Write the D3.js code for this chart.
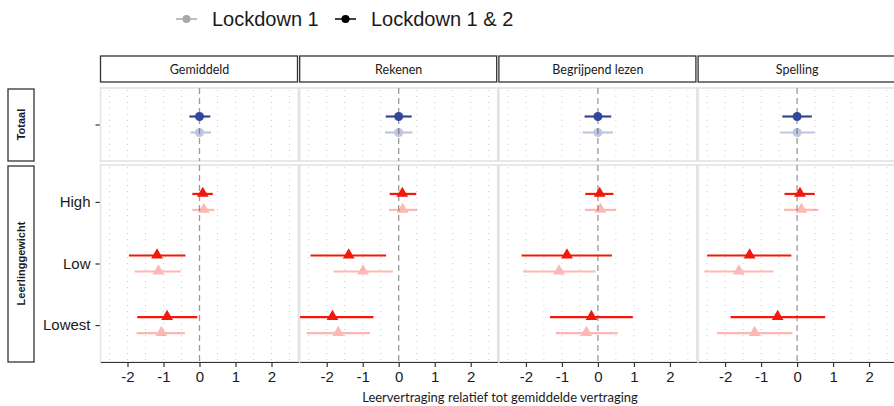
<!DOCTYPE html>
<html>
<head>
<meta charset="utf-8">
<script src="https://cdn.jsdelivr.net/npm/d3@7"></script>
<style>
  body { margin: 0; background: #fff; }
  svg { display: block; }
</style>
</head>
<body>
<div class="graph"></div>
<script>
//data//
let subjects = ['Gemiddeld', 'Rekenen', 'Begrijpend lezen', 'Spelling'];
let rowGroups = ['Totaal', 'Leerlinggewicht'];
let totalCats = [''];
let weightCats = ['High', 'Low', 'Lowest'];
let series = ['Lockdown 1 & 2', 'Lockdown 1'];
let xTicks = [-2, -1, 0, 1, 2];

// per subject: [Totaal, High, Low, Lowest]
let est12 = [[0, 0.09, -1.18, -0.90], [0, 0.10, -1.39, -1.84], [0, 0.05, -0.86, -0.18], [0, 0.08, -1.32, -0.54]];
let lo12  = [[-0.28, -0.20, -1.96, -1.73], [-0.36, -0.25, -2.45, -2.74], [-0.37, -0.35, -2.12, -1.33], [-0.41, -0.35, -2.50, -1.85]];
let hi12  = [[0.30, 0.37, -0.39, -0.06], [0.36, 0.49, -0.35, -0.70], [0.37, 0.43, 0.39, 0.97], [0.41, 0.49, -0.16, 0.78]];
let est1  = [[0, 0.12, -1.14, -1.06], [0, 0.11, -0.99, -1.68], [0, 0.07, -1.08, -0.32], [0, 0.12, -1.62, -1.18]];
let lo1   = [[-0.25, -0.20, -1.80, -1.75], [-0.38, -0.27, -1.81, -2.56], [-0.42, -0.36, -2.08, -1.17], [-0.47, -0.36, -2.58, -2.23]];
let hi1   = [[0.32, 0.41, -0.52, -0.41], [0.38, 0.51, -0.16, -0.80], [0.42, 0.50, -0.07, 0.55], [0.49, 0.59, -0.66, -0.13]];

//various constants//
let w = 894;
let h = 406;
let panelW = 198;
let panelStep = 199.2;
let left = 100.5;
let rowTop = [88, 165];
let rowBot = [161, 362];
let navy = '#34469a';
let red = '#f2190a';

let svg = d3.select('.graph')
    .append('svg')
    .attr('width', w)
    .attr('height', h);

// y scales (discrete, ggplot-like 0.6 expansion)
let yTotal = d3.scalePoint().domain(totalCats).range([rowTop[0], rowBot[0]]).padding(0.6);
let yWeight = d3.scalePoint().domain(weightCats).range([rowTop[1], rowBot[1]]).padding(0.6);
let dodge = d3.scalePoint().domain(series).range([-8, 8]);

let rows = [];
rows.push({ y: yTotal, cat: '', idx: 0, row: 0, color: navy, shape: 'circle' });
weightCats.forEach((c, i) => rows.push({ y: yWeight, cat: c, idx: i + 1, row: 1, color: red, shape: 'triangle' }));

// legend
let legend = svg.append('g').attr('font-family', 'Liberation Sans, Arial, sans-serif').attr('font-size', 20);
let legItems = [
    { label: 'Lockdown 1', color: '#a9a9a9', x: 176 },
    { label: 'Lockdown 1 & 2', color: '#000', x: 335 }
];
legItems.forEach(d => {
    legend.append('line').attr('x1', d.x).attr('x2', d.x + 21).attr('y1', 19).attr('y2', 19)
        .attr('stroke', d.color).attr('stroke-width', 1.5);
    legend.append('circle').attr('cx', d.x + 10.5).attr('cy', 19).attr('r', 4).attr('fill', d.color);
    legend.append('text').attr('x', d.x + 36).attr('y', 26).attr('fill', '#1a1a1a').text(d.label);
});

// row strips
rowGroups.forEach((g, r) => {
    svg.append('rect')
        .attr('x', 8).attr('y', rowTop[r] + 1)
        .attr('width', 26).attr('height', rowBot[r] - rowTop[r] - 1)
        .attr('fill', '#fff').attr('stroke', '#333').attr('stroke-width', 1.3);
    svg.append('text')
        .attr('transform', 'translate(25,' + (rowTop[r] + rowBot[r]) / 2 + ') rotate(-90)')
        .attr('text-anchor', 'middle')
        .attr('font-family', 'Liberation Sans, Arial, sans-serif')
        .attr('font-weight', 'bold')
        .attr('font-size', 11)
        .attr('fill', '#1a1a1a')
        .text(g);
});

// y axes (left of first panel)
let yAxisT = d3.axisLeft(yTotal).tickSize(5).tickSizeOuter(0).tickPadding(5);
let yAxisW = d3.axisLeft(yWeight).tickSize(5).tickSizeOuter(0).tickPadding(5);
[yAxisT, yAxisW].forEach((ax, r) => {
    let g = svg.append('g')
        .attr('transform', 'translate(' + left + ',0)')
        .call(ax);
    g.select('.domain').attr('stroke', '#333').attr('stroke-width', 1.2);
    g.selectAll('.tick line').attr('stroke', '#333').attr('stroke-width', 1.2);
    g.selectAll('.tick text').attr('font-family', 'Liberation Sans, Arial, sans-serif')
        .attr('font-size', 15).attr('fill', '#1a1a1a');
});

subjects.forEach((s, i) => {
    let x0 = left + i * panelStep;
    let xScale = d3.scaleLinear().domain([-2.75, 2.75]).range([x0, x0 + panelW]);

    // top strip
    svg.append('rect')
        .attr('x', x0).attr('y', 56)
        .attr('width', panelW - 1).attr('height', 26)
        .attr('fill', '#fff').attr('stroke', '#333').attr('stroke-width', 1.3);
    svg.append('text')
        .attr('x', x0 + panelW / 2).attr('y', 74)
        .attr('text-anchor', 'middle')
        .attr('font-family', 'Lato, Open Sans, sans-serif')
        .attr('font-size', 12.5)
        .attr('fill', '#1a1a1a')
        .text(s);

    [0, 1].forEach(r => {
        let pg = svg.append('g');
        pg.append('rect')
            .attr('x', x0).attr('y', rowTop[r])
            .attr('width', panelW).attr('height', rowBot[r] - rowTop[r])
            .attr('fill', '#fff').attr('stroke', '#e3e3e3').attr('stroke-width', 1.6);

        // dotted grid every 0.5
        let grid = d3.range(-2.5, 2.51, 0.5).filter(v => Math.abs(v) > 0.01);
        pg.selectAll('.grid')
            .data(grid)
            .enter()
            .append('line')
            .attr('x1', d => xScale(d)).attr('x2', d => xScale(d))
            .attr('y1', rowTop[r] + 2).attr('y2', rowBot[r] - 2)
            .attr('stroke', '#c8c8c8').attr('stroke-width', 0.9)
            .attr('stroke-dasharray', '1,5');

        pg.append('line')
            .attr('x1', xScale(0)).attr('x2', xScale(0))
            .attr('y1', rowTop[r]).attr('y2', rowBot[r])
            .attr('stroke', '#9a9a9a').attr('stroke-width', 1.3)
            .attr('stroke-dasharray', '6,4');
    });

    // bottom axis
    let xAxis = d3.axisBottom(xScale).tickValues(xTicks).tickSize(5).tickSizeOuter(0).tickPadding(4)
        .tickFormat(d => d < 0 ? '-' + Math.abs(d) : d);
    let ga = svg.append('g')
        .attr('transform', 'translate(0,' + rowBot[1] + ')')
        .call(xAxis);
    ga.select('.domain').attr('stroke', '#333').attr('stroke-width', 1.2);
    ga.selectAll('.tick line').attr('stroke', '#333').attr('stroke-width', 1.2);
    ga.selectAll('.tick text').attr('font-family', 'Liberation Sans, Arial, sans-serif')
        .attr('font-size', 15).attr('fill', '#1a1a1a');

    // marks
    rows.forEach(rw => {
        let yc = rw.y(rw.cat);
        let sets = [
            { s: 'Lockdown 1', e: est1[i][rw.idx], lo: lo1[i][rw.idx], hi: hi1[i][rw.idx], op: 0.3 },
            { s: 'Lockdown 1 & 2', e: est12[i][rw.idx], lo: lo12[i][rw.idx], hi: hi12[i][rw.idx], op: 1 }
        ];
        sets.forEach(d => {
            let yy = yc + dodge(d.s);
            let g = svg.append('g').attr('opacity', d.op);
            g.append('line')
                .attr('x1', xScale(d.lo)).attr('x2', xScale(d.hi))
                .attr('y1', yy).attr('y2', yy)
                .attr('stroke', rw.color).attr('stroke-width', 2.2);
            if (rw.shape === 'circle') {
                g.append('circle').attr('cx', xScale(d.e)).attr('cy', yy).attr('r', 4.5).attr('fill', rw.color);
            } else {
                g.append('path')
                    .attr('d', d3.symbol().type(d3.symbolTriangle).size(60))
                    .attr('transform', 'translate(' + xScale(d.e) + ',' + (yy - 0.5) + ')')
                    .attr('fill', rw.color);
            }
        });
    });
});

// x title
svg.append('text')
    .attr('x', 500).attr('y', 402)
    .attr('text-anchor', 'middle')
    .attr('font-family', 'Lato, Open Sans, sans-serif')
    .attr('font-size', 13)
    .attr('fill', '#1a1a1a')
    .text('Leervertraging relatief tot gemiddelde vertraging');
</script>
</body>
</html>
